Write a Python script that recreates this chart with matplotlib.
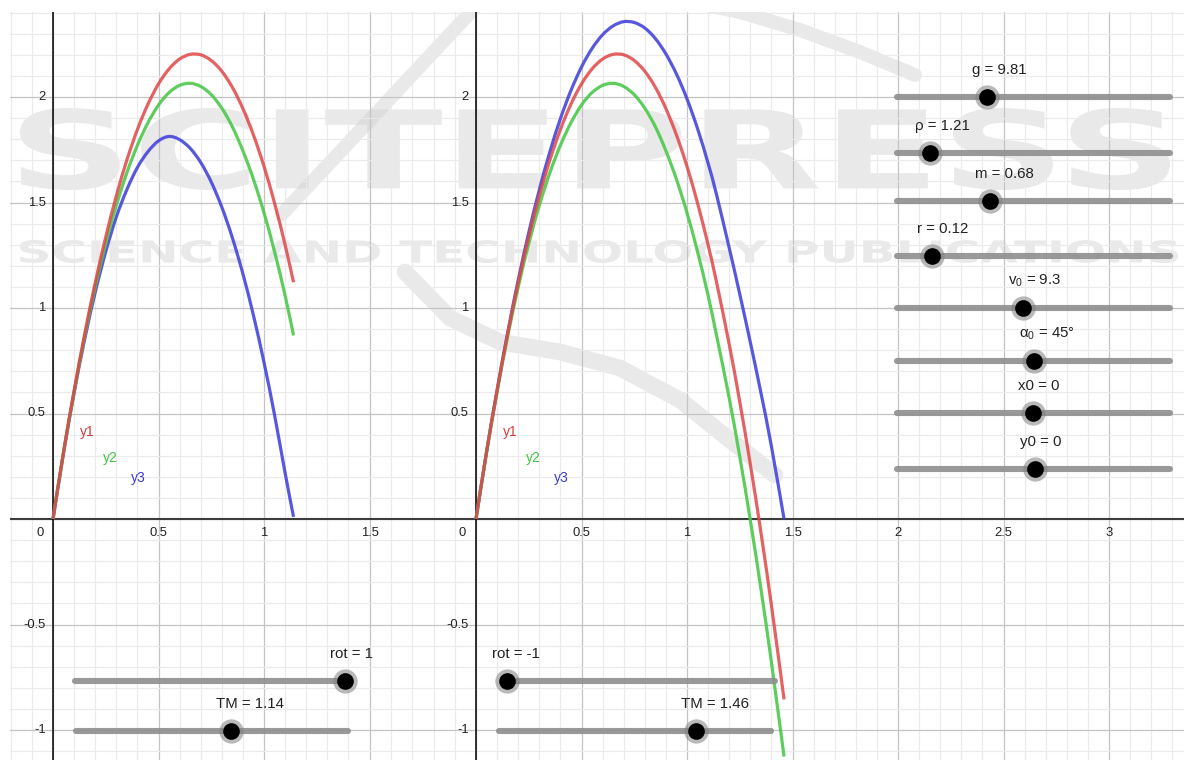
import numpy as np
import matplotlib
matplotlib.use("Agg")
import matplotlib.pyplot as plt
from matplotlib.ticker import MultipleLocator
from matplotlib.textpath import TextPath
from matplotlib.font_manager import FontProperties
from matplotlib.patches import PathPatch
from matplotlib.path import Path
from matplotlib.transforms import Affine2D

plt.rcParams["font.family"] = ["Liberation Sans", "DejaVu Sans"]

# ------------------------------------------------------------------ data
t_vals = [0.00, 0.05, 0.10, 0.15, 0.20, 0.25, 0.30, 0.35, 0.40, 0.45, 0.50, 0.55, 0.60, 0.65,
          0.70, 0.75, 0.80, 0.85, 0.90, 0.95, 1.00, 1.05, 1.10, 1.14, 1.20, 1.25, 1.30, 1.35,
          1.40, 1.46]
y1_vals = [0.000, 0.317, 0.608, 0.876, 1.119, 1.337, 1.531, 1.701, 1.846, 1.966, 2.062, 2.133,
           2.180, 2.202, 2.200, 2.173, 2.122, 2.046, 1.945, 1.820, 1.671, 1.497, 1.299, 1.122,
           0.828, 0.556, 0.260, -0.061, -0.408, -0.855]
y2_vals = [0.000, 0.316, 0.603, 0.865, 1.099, 1.305, 1.486, 1.641, 1.771, 1.878, 1.962, 2.021,
           2.055, 2.065, 2.050, 2.011, 1.947, 1.859, 1.745, 1.610, 1.451, 1.267, 1.059, 0.870,
           0.573, 0.296, -0.005, -0.329, -0.678, -1.126]
# y3 with rot = 1 (left view, runs to TM = 1.14)
y3_rot_pos = [0.000, 0.314, 0.598, 0.851, 1.074, 1.267, 1.431, 1.561, 1.666, 1.741, 1.792, 1.813,
              1.798, 1.757, 1.690, 1.597, 1.478, 1.333, 1.162, 0.965, 0.742, 0.493, 0.218, 0.010]
# y3 with rot = -1 (right view, runs to TM = 1.46)
y3_rot_neg = [0.000, 0.318, 0.611, 0.883, 1.132, 1.357, 1.560, 1.740, 1.897, 2.031, 2.142, 2.230,
              2.295, 2.337, 2.357, 2.353, 2.327, 2.277, 2.204, 2.109, 1.991, 1.850, 1.686, 1.537,
              1.285, 1.066, 0.838, 0.600, 0.345, 0.000]

TM_left, TM_right = 1.14, 1.46
rot_left, rot_right = 1, -1

param_labels = ["g = 9.81", "ρ = 1.21", "m = 0.68", "r = 0.12",
                r"$\mathregular{v_0}$ = 9.3", r"$\mathregular{\alpha_0}$ = 45°", "x0 = 0", "y0 = 0"]

RED, GREEN, BLUE = "#e04646", "#4cc84c", "#4646dc"

# ------------------------------------------------------------------ layout (pixels of the screenshot)
W, H = 1184, 760
PX = 211.0                  # pixels per unit, both views
Y0_PX, TOP_PX = 519, 12     # x-axis row, top of the graphics view

fig = plt.figure(figsize=(W / 100, H / 100), dpi=100)
pix = Affine2D().scale(1 / W, -1 / H).translate(0, 1) + fig.transFigure


def make_view(left_px, right_px, origin_px):
    ax = fig.add_axes([left_px / W, 0, (right_px - left_px) / W, (H - TOP_PX) / H])
    ax.xaxis.set_major_locator(MultipleLocator(0.5))
    ax.xaxis.set_minor_locator(MultipleLocator(0.1))
    ax.yaxis.set_major_locator(MultipleLocator(0.5))
    ax.yaxis.set_minor_locator(MultipleLocator(0.1))
    ax.grid(which="minor", color="#eaeaea", lw=0.8)
    ax.grid(which="major", color="#c4c4c4", lw=0.9)
    ax.tick_params(which="both", length=0, labelbottom=False, labelleft=False)
    for s in ax.spines.values():
        s.set_visible(False)
    ax.axhline(0, color="#3c3c3c", lw=1.5, zorder=2)
    ax.axvline(0, color="black", lw=1.1, zorder=2)
    return ax, ((left_px - origin_px) / PX, (right_px - origin_px) / PX)


axL, limL = make_view(10, 430, 53)
axR, limR = make_view(430, W, 476)

WM = dict(fc="#cfcfcf", alpha=0.45, zorder=1.5)


# faint publisher watermark spanning both views
def watermark(text, box):
    tp = TextPath((0, 0), text, size=100, prop=FontProperties(family="DejaVu Sans", weight="bold"))
    e = tp.get_extents()
    tr = (Affine2D().translate(-e.x0, -e.y0)
          .scale((box[2] - box[0]) / e.width, -(box[3] - box[1]) / e.height)
          .translate(box[0], box[3]))
    path = tr.transform_path(tp)
    for ax in (axL, axR):
        ax.add_patch(PathPatch(path, transform=pix, ec="none", **WM))


def logo_stroke(pts, lw):
    for ax in (axL, axR):
        xs, ys = zip(*pts)
        ax.plot(xs, ys, transform=pix, color=WM["fc"], alpha=WM["alpha"], lw=lw,
                solid_capstyle="round", zorder=1.5)


watermark("SCITEPRESS", (20, 108, 1170, 190))
watermark("SCIENCE AND TECHNOLOGY PUBLICATIONS", (20, 240, 1178, 263))
logo_stroke([(282, 214), (482, 0)], 10)
logo_stroke([(680, 0), (740, 12), (800, 30), (860, 52), (915, 75)], 10)
logo_stroke([(405, 272), (450, 318), (500, 342), (560, 352), (620, 368), (680, 400),
             (730, 440), (775, 475)], 12)

ymin, ymax = (Y0_PX - H) / PX, (Y0_PX - TOP_PX) / PX


def smooth(x, y):
    # cubic Bezier through the read points (Catmull-Rom tangents)
    p = np.column_stack([x, y])
    verts, codes = [p[0]], [Path.MOVETO]
    for i in range(len(p) - 1):
        a = p[i - 1] if i > 0 else p[i]
        d = p[i + 2] if i + 2 < len(p) else p[i + 1]
        verts += [p[i] + (p[i + 1] - a) / 6, p[i + 1] - (d - p[i]) / 6, p[i + 1]]
        codes += [Path.CURVE4] * 3
    return Path(verts, codes)


t = np.array(t_vals)
nL = int(np.sum(t <= TM_left + 1e-9))
for ax, n, y3 in ((axL, nL, y3_rot_pos), (axR, len(t), y3_rot_neg)):
    for yy, col, al in ((y3, BLUE, 0.9), (y2_vals, GREEN, 0.9), (y1_vals, RED, 0.85)):
        ax.add_patch(PathPatch(smooth(t[:n], np.array(yy[:n])), fill=False, ec=col, lw=2.3,
                               alpha=al, zorder=3, capstyle="butt"))
    # curve captions
    for lab, col, (cx, cy) in (("y1", "#d43c3c", (0.161, 0.41)),
                               ("y2", "#44c044", (0.270, 0.29)),
                               ("y3", "#3c3cd0", (0.403, 0.195))):
        ax.text(cx, cy, lab, color=col, fontsize=10, ha="center", va="center", zorder=4)

for ax, lim in ((axL, limL), (axR, limR)):
    ax.set_xlim(*lim)
    ax.set_ylim(ymin, ymax)


# tick labels, GeoGebra style (inside the view)
def fmt(v):
    return f"{v:g}"


for ax, xticks, zero_x in ((axL, [0.5, 1, 1.5], -0.062), (axR, [0.5, 1, 1.5, 2, 2.5, 3], -0.066)):
    for v in xticks:
        ax.text(v, -0.066, fmt(v), fontsize=9.4, ha="center", va="center", color="#222222")
    ax.text(zero_x, -0.066, "0", fontsize=9.4, ha="center", va="center", color="#222222")
    for v in [-1, -0.5, 0.5, 1, 1.5, 2]:
        ax.text(-0.035, v, fmt(v), fontsize=9.4, ha="right", va="center", color="#222222")

# ------------------------------------------------------------------ sliders (fixed on screen)
ov = fig.add_axes([0, 0, 1, 1])
ov.set_xlim(0, W)
ov.set_ylim(H, 0)
ov.axis("off")
ov.patch.set_alpha(0)
ov.set_zorder(5)


def slider(x0, x1, y, xd, label):
    ov.plot([x0, x1], [y, y], color="#8e8e8e", lw=4.4, solid_capstyle="round", alpha=0.9)
    ov.plot(xd, y, "o", ms=17.5, color="#808080", alpha=0.55, mec="none")
    ov.plot(xd, y, "o", ms=12, color="black", mec="none")
    ov.text(xd - 15, y - 27, label, fontsize=10.8, ha="left", va="center", color="#222222")


slider_rows = [97, 153, 201, 256, 308, 361, 413, 469]
slider_dots = [987, 930, 990, 932, 1023, 1034, 1033, 1035]
for y, xd, lab in zip(slider_rows, slider_dots, param_labels):
    slider(897, 1170, y, xd, lab)

slider(75, 345, 681, 345, f"rot = {rot_left}")
slider(76, 348, 731, 231, f"TM = {TM_left:.2f}")
slider(507, 775, 681, 507, f"rot = {rot_right}")
slider(499, 771, 731, 696, f"TM = {TM_right:.2f}")

fig.savefig("out.png", dpi=100)
